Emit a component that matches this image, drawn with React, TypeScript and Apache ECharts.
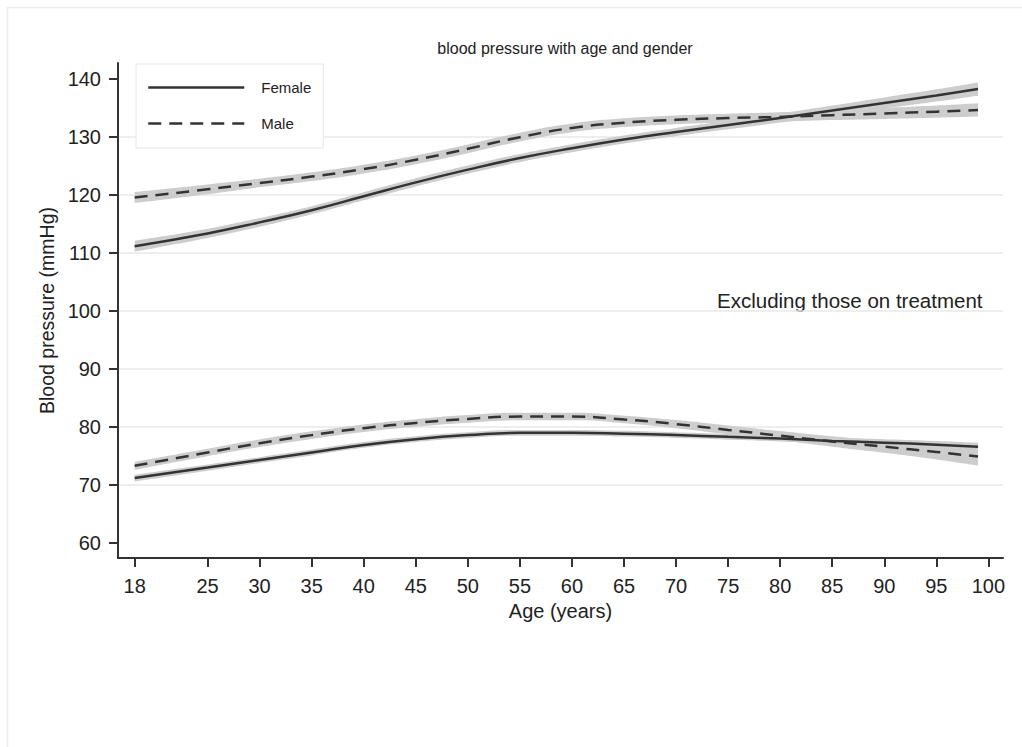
import React, { useEffect, useRef } from "react";
import * as echarts from "echarts";

const ages = [18, 25, 30, 35, 40, 45, 50, 55, 60, 65, 70, 75, 80, 85, 90, 95, 99];

// Upper pair (systolic)
const femaleSys = [111.2, 113.4, 115.3, 117.4, 119.8, 122.2, 124.4, 126.4, 128.1, 129.6, 130.9, 132.1, 133.3, 134.6, 135.9, 137.2, 138.3];
const femaleSysCI = [0.95, 0.8, 0.75, 0.7, 0.7, 0.7, 0.7, 0.7, 0.7, 0.7, 0.7, 0.72, 0.78, 0.85, 0.95, 1.05, 1.15];
const maleSys = [119.6, 121.0, 122.1, 123.2, 124.5, 126.1, 128.0, 130.0, 131.6, 132.5, 133.0, 133.3, 133.5, 133.8, 134.1, 134.4, 134.7];
const maleSysCI = [0.95, 0.85, 0.75, 0.75, 0.75, 0.75, 0.75, 0.75, 0.75, 0.75, 0.75, 0.75, 0.8, 0.85, 0.95, 1.05, 1.15];

// Lower pair (diastolic)
const femaleDia = [71.2, 73.0, 74.3, 75.6, 76.9, 77.9, 78.6, 79.0, 79.0, 78.85, 78.6, 78.3, 78.0, 77.6, 77.3, 76.95, 76.6];
const femaleDiaCI = [0.6, 0.55, 0.5, 0.5, 0.5, 0.5, 0.5, 0.5, 0.5, 0.5, 0.5, 0.5, 0.5, 0.55, 0.6, 0.65, 0.7];
const maleDia = [73.3, 75.6, 77.2, 78.6, 79.8, 80.7, 81.4, 81.8, 81.8, 81.3, 80.5, 79.5, 78.5, 77.5, 76.6, 75.7, 74.9];
const maleDiaCI = [0.7, 0.65, 0.65, 0.65, 0.65, 0.65, 0.65, 0.65, 0.65, 0.65, 0.7, 0.75, 0.8, 0.9, 1.05, 1.3, 1.55];

const xTicks = [18, 25, 30, 35, 40, 45, 50, 55, 60, 65, 70, 75, 80, 85, 90, 95, 100];
const yTicks = [60, 70, 80, 90, 100, 110, 120, 130, 140];

const FONT = "'Liberation Sans', Arial, Helvetica, sans-serif";
const LINE = "#333333";
const BAND = "#cdcdcd";

// Data rows are [value, age] so that the stacked dimension is the value (y) dimension.
function bandSeries(id: string, vals: number[], ci: number[]) {
  return [
    {
      name: id + "_lo",
      type: "line",
      stack: id,
      smooth: true,
      symbol: "none",
      silent: true,
      encode: { x: 1, y: 0 },
      lineStyle: { opacity: 0 },
      data: ages.map((a, i) => [vals[i] - ci[i], a]),
      z: 1,
    },
    {
      name: id + "_w",
      type: "line",
      stack: id,
      smooth: true,
      symbol: "none",
      silent: true,
      encode: { x: 1, y: 0 },
      lineStyle: { opacity: 0 },
      areaStyle: { color: BAND, opacity: 1 },
      data: ages.map((a, i) => [2 * ci[i], a]),
      z: 1,
    },
  ];
}

function lineSeries(name: string, vals: number[], dashed: boolean) {
  return {
    name,
    type: "line",
    smooth: true,
    symbol: "none",
    lineStyle: { color: LINE, width: 2.5, type: dashed ? [13, 8] : "solid" },
    itemStyle: { color: LINE },
    data: ages.map((a, i) => [a, vals[i]]),
    z: 3,
  };
}

export default function App() {
  const ref = useRef<HTMLDivElement>(null);
  useEffect(() => {
    if (!ref.current) return;
    const chart = echarts.init(ref.current, null, { renderer: "svg" });
    chart.setOption({
      animation: false,
      backgroundColor: "#ffffff",
      textStyle: { fontFamily: FONT },
      title: {
        text: "blood pressure with age and gender",
        left: 560,
        top: 35,
        textAlign: "center",
        textStyle: { fontFamily: FONT, fontSize: 16, fontWeight: "normal", color: "#222" },
      },
      legend: {
        data: ["Female", "Male"],
        orient: "vertical",
        left: 136,
        top: 64,
        padding: [16, 12, 17, 11],
        itemWidth: 96,
        itemHeight: 14,
        itemGap: 21,
        backgroundColor: "#ffffff",
        borderColor: "#e6e6e6",
        borderWidth: 1,
        selectedMode: false,
        itemStyle: { opacity: 0, borderWidth: 0 },
        lineStyle: { width: 2.5, color: LINE },
        textStyle: { fontFamily: FONT, fontSize: 15, color: "#222", padding: [0, 0, 0, 12] },
      },
      grid: { left: 118, right: 19, top: 63, bottom: 189, containLabel: false },
      xAxis: {
        type: "value",
        min: 16.4,
        max: 101.4,
        name: "Age (years)",
        nameLocation: "middle",
        nameGap: 37,
        nameTextStyle: { fontFamily: FONT, fontSize: 20, color: "#222" },
        axisLine: { show: true, onZero: false, lineStyle: { color: LINE, width: 2 } },
        axisTick: { show: true, length: 9, lineStyle: { color: LINE, width: 2 }, customValues: xTicks },
        axisLabel: { fontFamily: FONT, fontSize: 20, color: "#222", margin: 18, customValues: xTicks },
        splitLine: { show: false },
      },
      yAxis: {
        type: "value",
        min: 57.4,
        max: 142.8,
        splitNumber: 9,
        name: "Blood pressure (mmHg)",
        nameLocation: "middle",
        nameGap: 60,
        nameTextStyle: { fontFamily: FONT, fontSize: 19.5, color: "#222" },
        axisLine: { show: true, onZero: false, lineStyle: { color: LINE, width: 2 } },
        axisTick: { show: true, length: 9, lineStyle: { color: LINE, width: 2 }, customValues: yTicks },
        axisLabel: { fontFamily: FONT, fontSize: 20, color: "#222", margin: 17, customValues: yTicks },
        splitLine: { show: true, showMinLine: false, showMaxLine: false, lineStyle: { color: "#e8e8e8", width: 1.5 } },
      },
      graphic: [
        {
          type: "rect",
          shape: { x: 7.5, y: 7.5, width: 1040, height: 770 },
          style: { fill: "none", stroke: "#ececec", lineWidth: 1.5 },
          silent: true,
          z: -10,
        },
        {
          type: "text",
          x: 717,
          y: 300,
          style: {
            text: "Excluding those on treatment",
            fontFamily: FONT,
            fontSize: 20.5,
            fill: "#222",
            align: "left",
            verticalAlign: "middle",
          },
        },
      ],
      series: [
        ...bandSeries("fs", femaleSys, femaleSysCI),
        ...bandSeries("ms", maleSys, maleSysCI),
        ...bandSeries("fd", femaleDia, femaleDiaCI),
        ...bandSeries("md", maleDia, maleDiaCI),
        lineSeries("Female", femaleSys, false),
        lineSeries("Male", maleSys, true),
        lineSeries("Female", femaleDia, false),
        lineSeries("Male", maleDia, true),
      ],
    });
    return () => chart.dispose();
  }, []);
  return (
    <div
      ref={ref}
      style={{ position: "fixed", left: 0, top: 0, width: 1022, height: 747, background: "#fff" }}
    />
  );
}
